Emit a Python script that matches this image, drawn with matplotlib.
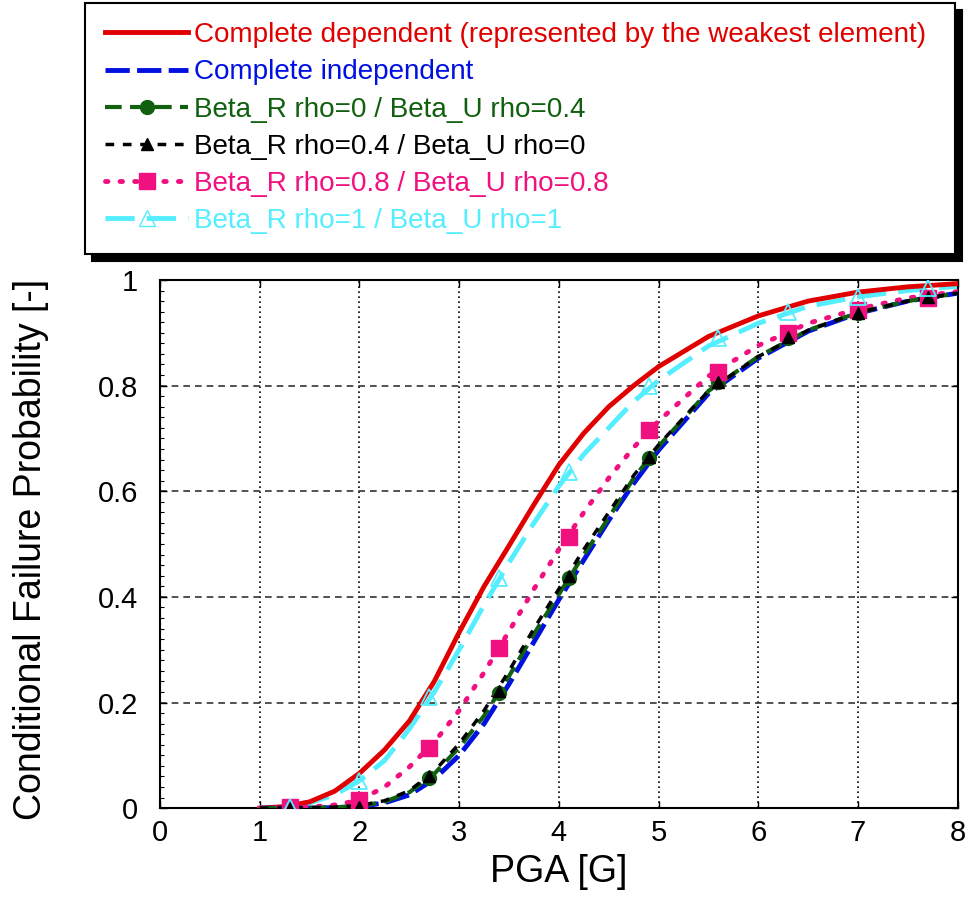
import matplotlib
matplotlib.use('Agg')
import matplotlib.pyplot as plt
import numpy as np

plt.rcParams['font.family'] = ['Liberation Sans', 'DejaVu Sans']

#------------------------------------------------------------------------------
# curves
pga = [1.0, 1.25, 1.5, 1.75, 2.0, 2.25, 2.5, 2.75, 3.0, 3.25, 3.5, 3.75, 4.0,
       4.25, 4.5, 4.75, 5.0, 5.5, 6.0, 6.5, 7.0, 7.5, 8.0]
p_dep = [0.0, 0.003, 0.012, 0.032, 0.066, 0.11, 0.165, 0.24, 0.333, 0.42, 0.497,
         0.575, 0.65, 0.71, 0.76, 0.80, 0.836, 0.893, 0.932, 0.96, 0.977, 0.987, 0.993]
p_indep = [0.0, 0.0, 0.0003, 0.001, 0.003, 0.01, 0.025, 0.055, 0.10, 0.16, 0.235,
           0.315, 0.395, 0.47, 0.545, 0.615, 0.678, 0.785, 0.852, 0.903, 0.937, 0.96, 0.975]
p_r0_u04 = [0.0, 0.0, 0.0005, 0.0015, 0.004, 0.012, 0.03, 0.065, 0.115, 0.175, 0.25,
            0.33, 0.405, 0.48, 0.55, 0.625, 0.685, 0.79, 0.855, 0.905, 0.938, 0.96, 0.975]
p_r04_u0 = [0.0, 0.0, 0.0006, 0.002, 0.005, 0.014, 0.033, 0.07, 0.122, 0.185, 0.26,
            0.34, 0.415, 0.49, 0.56, 0.63, 0.688, 0.79, 0.855, 0.905, 0.938, 0.96, 0.975]
p_r08_u08 = [0.0, 0.001, 0.002, 0.006, 0.015, 0.04, 0.078, 0.125, 0.185, 0.257, 0.335,
             0.415, 0.49, 0.56, 0.625, 0.683, 0.733, 0.818, 0.876, 0.918, 0.945, 0.966, 0.978]
p_r1_u1 = [0.0, 0.002, 0.01, 0.025, 0.052, 0.09, 0.15, 0.22, 0.30, 0.385, 0.465,
           0.54, 0.61, 0.67, 0.72, 0.77, 0.81, 0.875, 0.918, 0.95, 0.968, 0.98, 0.988]

# marker points
pga_mk = [1.3, 2.0, 2.7, 3.4, 4.1, 4.9, 5.6, 6.3, 7.0, 7.7]
mk_r0_u04 = [0.0, 0.003, 0.058, 0.218, 0.435, 0.663, 0.807, 0.89, 0.937, 0.968]
mk_r04_u0 = [0.0, 0.003, 0.06, 0.222, 0.44, 0.665, 0.807, 0.892, 0.937, 0.968]
mk_r08_u08 = [0.002, 0.015, 0.114, 0.303, 0.513, 0.716, 0.826, 0.90, 0.943, 0.965]
mk_r1_u1 = [0.003, 0.052, 0.21, 0.435, 0.637, 0.80, 0.89, 0.94, 0.968, 0.985]

labels = ['Complete dependent (represented by the weakest element)',
          'Complete independent',
          'Beta_R rho=0 / Beta_U rho=0.4',
          'Beta_R rho=0.4 / Beta_U rho=0',
          'Beta_R rho=0.8 / Beta_U rho=0.8',
          'Beta_R rho=1 / Beta_U rho=1']
#------------------------------------------------------------------------------
red = '#e00000'
blue = '#0010e0'
green = '#106010'
pink = '#f0107f'
cyan = '#55eeff'

fig = plt.figure(figsize=(9.67, 9.06), dpi=100)
ax = fig.add_axes([0.1655, 0.108, 0.825, 0.583])

ax.plot(pga, p_dep, color=red, lw=3.5, zorder=3)
ax.plot(pga, p_indep, color=blue, lw=3.5, dashes=(5, 1.5), zorder=3)
ax.plot(pga, p_r0_u04, color=green, lw=3, dashes=(4, 2), zorder=4)
ax.plot(pga, p_r04_u0, color='black', lw=2.5, dashes=(2.5, 2.5), zorder=5)
ax.plot(pga, p_r08_u08, color=pink, lw=3.5, dashes=(0.5, 2.5), dash_capstyle='round', zorder=3)
ax.plot(pga, p_r1_u1, color=cyan, lw=3.5, dashes=(6, 2.5), zorder=2)

ax.plot(pga_mk, mk_r0_u04, 'o', color=green, ms=10, zorder=6)
ax.plot(pga_mk, mk_r04_u0, '^', color='black', ms=9, zorder=7)
ax.plot(pga_mk, mk_r08_u08, 's', color=pink, ms=12, zorder=6)
ax.plot(pga_mk, mk_r1_u1, '^', mfc='none', mec=cyan, mew=1.3, ms=11, zorder=8)

# legend handles (line + marker)
h = []
h += ax.plot([], [], color=red, lw=3.5)
h += ax.plot([], [], color=blue, lw=3.5, dashes=(5, 1.5))
h += ax.plot([], [], color=green, lw=3, dashes=(4, 2), marker='o', ms=10)
h += ax.plot([], [], color='black', lw=2.5, dashes=(2.5, 2.5), marker='^', ms=9)
h += ax.plot([], [], color=pink, lw=3.5, dashes=(0.5, 2.5), dash_capstyle='round', marker='s', ms=12)
h += ax.plot([], [], color=cyan, lw=3.5, dashes=(6, 2.5), marker='^', mfc='none', mec=cyan, ms=11)

#--------------axes---------------------------------------------------------
ax.set_xlim(0, 8)
ax.set_ylim(0, 1)
ax.set_xticks(np.arange(0, 9, 1))
ax.set_yticks(np.arange(0, 1.01, 0.2))
ax.set_yticklabels(['0', '0.2', '0.4', '0.6', '0.8', '1'])
ax.set_yticks(np.arange(0, 1.001, 0.02), minor=True)

ax.xaxis.grid(True, color='black', linestyle=(0, (1, 2)), lw=1.2)
ax.yaxis.grid(True, color='#333333', linestyle=(0, (4, 3)), lw=1.2)
ax.set_axisbelow(True)

ax.tick_params(direction='in', length=5, width=1, labelsize=21, top=True, right=True)
ax.tick_params(axis='y', which='minor', direction='in', length=3, width=0.8, right=False)
ax.tick_params(axis='x', pad=8)
ax.tick_params(axis='y', pad=16)
for s in ax.spines.values():
    s.set_linewidth(1.5)

ax.set_xlabel('PGA [G]', fontsize=27, labelpad=5)
ax.set_ylabel('Conditional Failure Probability [-]', fontsize=27)
ax.yaxis.set_label_coords(-0.139, 0.489)

#--------------legend above the axes----------------------------------------
leg = fig.legend(h, labels, loc='upper left', bbox_to_anchor=(0.088, 0.73, 0.9, 0.267),
                 mode='expand', fontsize=20.1, frameon=True, fancybox=False, framealpha=1,
                 edgecolor='black', handlelength=3.0, handletextpad=0.2,
                 labelspacing=0.4, borderpad=0.7, borderaxespad=0, numpoints=1,
                 shadow={'color': 'black', 'alpha': 1, 'ox': 5, 'oy': -5})
leg.get_frame().set_linewidth(1.5)
colors = [red, blue, green, 'black', pink, cyan]
for t, c in zip(leg.get_texts(), colors):
    t.set_color(c)

plt.savefig('out.png', dpi=100)
